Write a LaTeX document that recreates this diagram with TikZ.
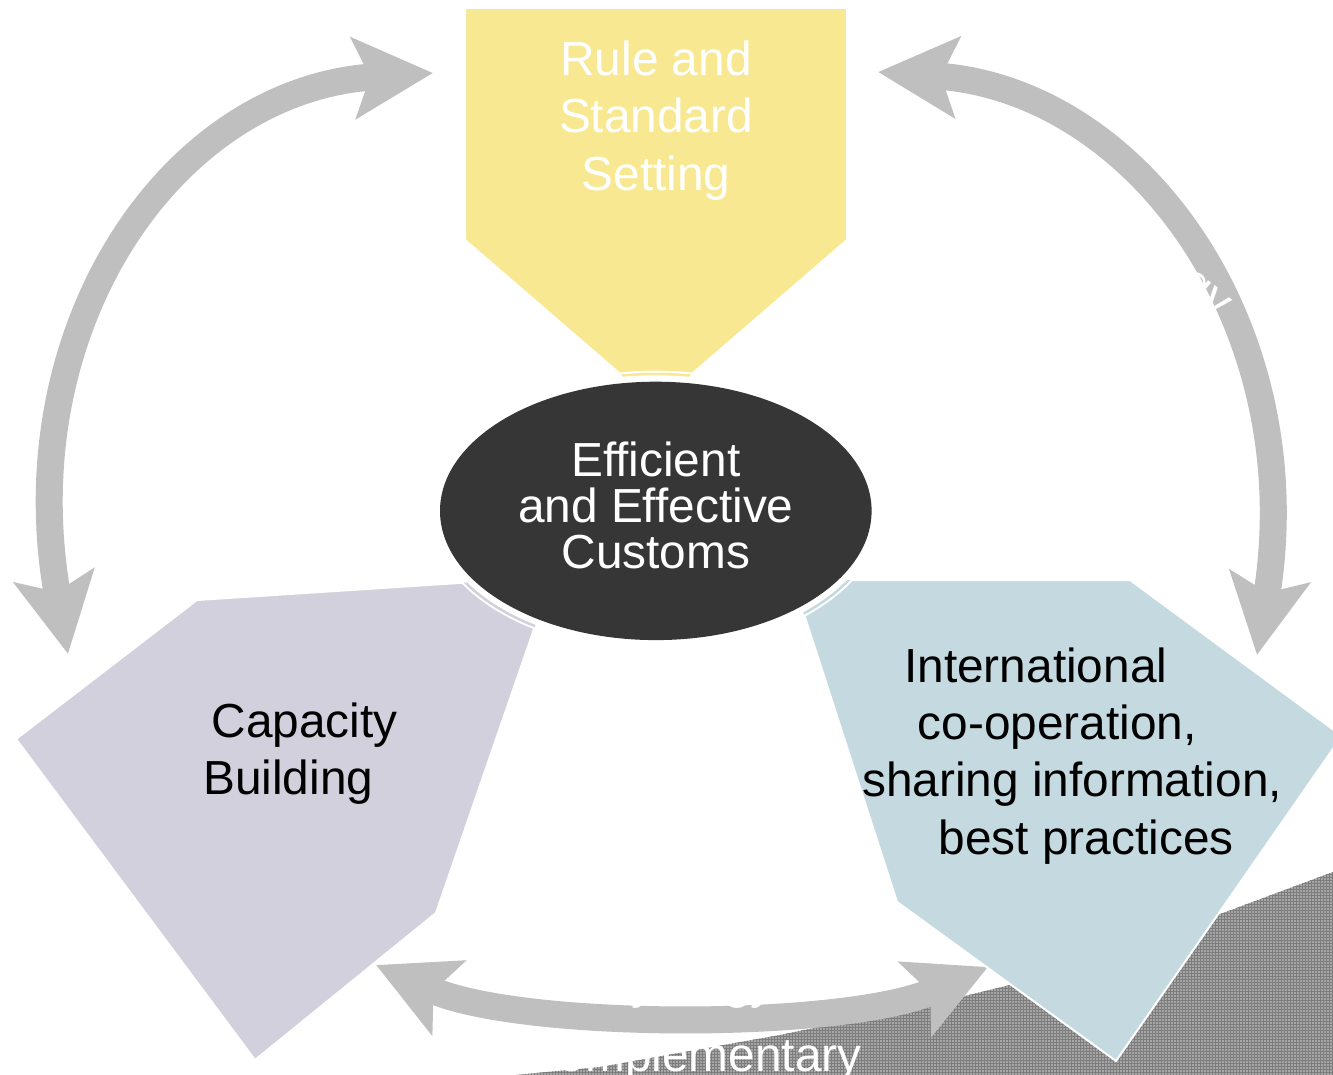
\documentclass[tikz,border=0pt]{standalone}
\usepackage{fontspec}
\setmainfont{Liberation Sans}
\usetikzlibrary{arrows.meta, shapes.geometric, patterns}
\definecolor{ruleYellow}{RGB}{247,232,145}
\definecolor{capLavender}{RGB}{209,208,220}
\definecolor{coopBlue}{RGB}{197,218,224}
\definecolor{coreDark}{RGB}{54,54,54}
\definecolor{linkGray}{RGB}{191,191,191}
\definecolor{hatchGray}{RGB}{166,166,166}
\definecolor{hatchLine}{RGB}{125,125,125}
\newcommand{\petalfont}{\fontsize{47.8}{57.3}\selectfont}
\newcommand{\corefont}{\fontsize{47.8}{46}\selectfont}

\begin{document}
\begin{tikzpicture}[x=1pt, y=-1pt,
	link/.style={draw=linkGray, line width=27pt, arrows={Stealth[length=79pt, width=80pt, inset=16pt]-Stealth[length=79pt, width=80pt, inset=16pt]}},
	petal/.style={draw=white, line width=2pt},
	ring/.style={line width=2.5pt},
	petaltext/.style={inner sep=0pt, font=\petalfont, align=left},
	ghost/.style={inner sep=0pt, font=\petalfont, white}]

	\useasboundingbox (0,0) rectangle (1333,1075);
	\clip (0,0) rectangle (1333,1075);

	% shaded strip in the lower right corner
	\fill[hatchGray] (515,1075) -- (600,1067) -- (780,1035) -- (936,1003) -- (1010,985) -- (1223,913) -- (1333,872) -- (1333,1075) -- cycle;
	\fill[pattern=grid, pattern color=hatchLine] (515,1075) -- (600,1067) -- (780,1035) -- (936,1003) -- (1010,985) -- (1223,913) -- (1333,872) -- (1333,1075) -- cycle;

	\coordinate (hub) at (655.8,510.9);
	\coordinate (capTip) at (68,654);
	\coordinate (ruleL) at (433,73);
	\coordinate (ruleR) at (878,72);
	\coordinate (coopTip) at (1257,655);
	\coordinate (capR) at (376,965);
	\coordinate (coopL) at (988,967);

	\draw[link] (capTip) .. controls (10,330) and (170,90) .. (ruleL);
	\draw[link] (coopTip) .. controls (1310,330) and (1140,90) .. (ruleR);
	\draw[link] (capR) .. controls (520,1030) and (845,1030) .. (coopL);

	\filldraw[fill=ruleYellow, petal] (465,8) -- (847,8) -- (847,240) -- (656,405) -- (465,240) -- cycle;
	\filldraw[fill=capLavender, petal] (197,600) -- (552,577) -- (436,913) -- (255,1060) -- (16,739) -- cycle;
	\filldraw[fill=coopBlue, petal] (793,580) -- (1130,580) -- (1342,736) -- (1116,1061) -- (897,902) -- cycle;

	% white halo round the centre, with a thin ring of each colour
	\fill[white] (hub) ellipse [x radius=226.8, y radius=140.2];
	\begin{scope}
		\clip (465,8) -- (847,8) -- (847,240) -- (656,405) -- (465,240) -- cycle;
		\draw[ring, ruleYellow] (hub) ellipse [x radius=223.5, y radius=136.9];
	\end{scope}
	\begin{scope}
		\clip (197,600) -- (552,577) -- (436,913) -- (255,1060) -- (16,739) -- cycle;
		\draw[ring, capLavender] (hub) ellipse [x radius=223.5, y radius=136.9];
	\end{scope}
	\begin{scope}
		\clip (793,580) -- (1130,580) -- (1342,736) -- (1116,1061) -- (897,902) -- cycle;
		\draw[ring, coopBlue] (hub) ellipse [x radius=223.5, y radius=136.9];
	\end{scope}

	\node[ellipse, fill=coreDark, minimum width=431.6pt, minimum height=258.4pt, inner sep=0pt] (core) at (hub) {};
	\node[inner sep=0pt, font=\corefont, align=center, white] (coreLabel) at ([yshift=5pt]core.center) {Efficient\\and Effective\\Customs};

	\node[inner sep=0pt, font=\petalfont, align=center, white] (rule) at (656,120.5) {Rule and\\Standard\\Setting};
	\node[petaltext, anchor=north west] (capacity) at (203,702.3) {\hspace*{8.4pt}Capacity\\Building};
	\node[petaltext, anchor=north west] (coop) at (862,647.3) {\hspace*{42pt}International\\\hspace*{55.5pt}co-operation,\\sharing information,\\\hspace*{76.5pt}best practices};

	\node[ghost, anchor=base] (synBottom) at (687,998) {Synergy};
	\node[ghost, anchor=base] (complement) at (693,1071) {Complementary};
	\node[ghost, anchor=base east, rotate=-40] (synRight) at (1216.5,320) {Synergy};

\end{tikzpicture}
\end{document}
